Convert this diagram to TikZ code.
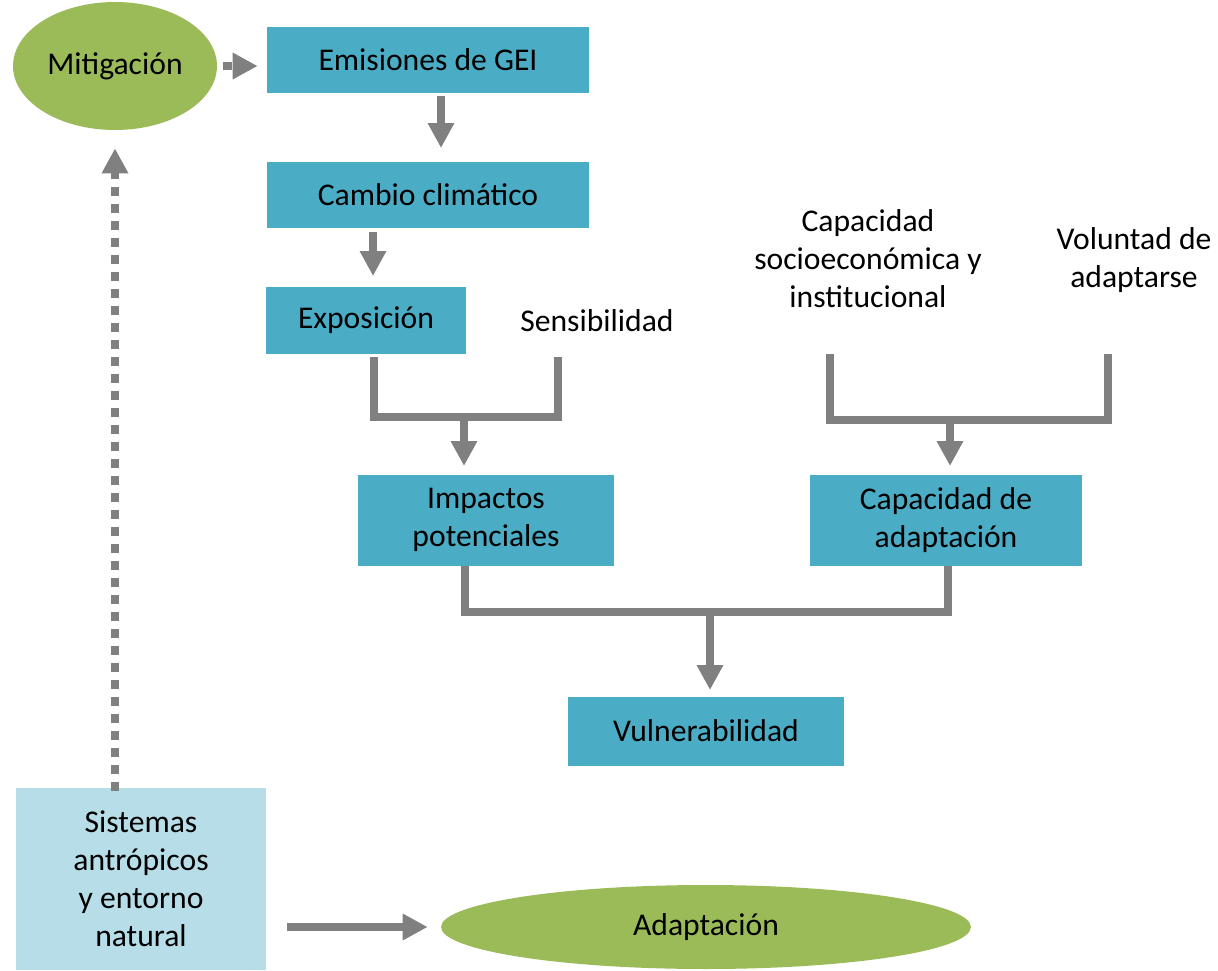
\documentclass[tikz,border=0pt]{standalone}
\usepackage{fontspec}
\setmainfont{Carlito}
\usetikzlibrary{positioning,arrows.meta,shapes.geometric}
\definecolor{boxblue}{HTML}{4BACC6}
\definecolor{paleblue}{HTML}{B7DEE8}
\definecolor{leafgreen}{HTML}{9BBB59}
\definecolor{linkgray}{HTML}{808080}
\tikzset{
  txt/.style={align=center, inner sep=0pt, font=\fontsize{18}{21.6}\selectfont},
  box/.style={txt, fill=boxblue},
  oval/.style={txt, ellipse, fill=leafgreen},
  bar/.style={draw=linkgray, line width=0.16cm, line join=miter},
  link/.style={bar, -{Triangle[length=0.5cm,width=0.5cm]}},
  dotlink/.style={link, dash pattern=on 0.18cm off 0.16cm}
}
\begin{document}
\begin{tikzpicture}[x=0.02cm, y=-0.02cm]
\useasboundingbox (0,0) rectangle (1218,971);
% left column
\node[oval, minimum width=4.08cm, minimum height=2.56cm] (mitig) at (115,66) {Mitigación};
\node[box, fill=paleblue, minimum width=5.02cm, minimum height=3.64cm] (sist) at (141,879) {Sistemas\\antrópicos\\y entorno\\natural};
\node[oval, minimum width=10.6cm, minimum height=1.68cm] (adapt) at (706,927) {Adaptación};
% main chain
\node[box, minimum width=6.44cm, minimum height=1.34cm] (emis) at (428,60) {Emisiones de GEI};
\node[box, minimum width=6.44cm, minimum height=1.32cm] (cambio) at (428,195) {Cambio climático};
\node[box, minimum width=4cm, minimum height=1.34cm] (expo) at (366,320) {Exposición};
\node[txt] (sens) at (597,321) {Sensibilidad};
\node[txt] (capsoc) at (868,259) {Capacidad\\socioeconómica y\\institucional};
\node[txt] (volun) at (1134,260) {Voluntad de\\adaptarse};
\node[box, minimum width=5.12cm, minimum height=1.82cm] (impac) at (486,520) {Impactos\\potenciales};
\node[box, minimum width=5.44cm, minimum height=1.82cm] (capad) at (946,520) {Capacidad de\\adaptación};
\node[box, minimum width=5.52cm, minimum height=1.38cm] (vuln) at (706,731) {Vulnerabilidad};
% bracket corners
\coordinate (e1) at (441,96);  \coordinate (e2) at (441,148);
\coordinate (c1) at (373,232); \coordinate (c2) at (373,276);
\coordinate (l1) at (374,357); \coordinate (l2) at (558,357);
\coordinate (lm) at (464,417); \coordinate (lt) at (464,466);
\coordinate (r1) at (830,354); \coordinate (r2) at (1108,354);
\coordinate (rm) at (950,420); \coordinate (rt) at (950,466);
\coordinate (b1) at (465,566); \coordinate (b2) at (948,566);
\coordinate (bm) at (710,612); \coordinate (bt) at (710,690);
% connectors
\draw[link] (e1) -- (e2);
\draw[link] (c1) -- (c2);
\draw[bar] (l1) |- (lm) -| (l2);
\draw[link] (lm) -- (lt);
\draw[bar] (r1) |- (rm) -| (r2);
\draw[link] (rm) -- (rt);
\draw[bar] (b1) |- (bm) -| (b2);
\draw[link] (bm) -- (bt);
\draw[dotlink, shorten <=0.12cm, shorten >=0.18cm] (mitig.east) -- (emis.west |- mitig.east);
\draw[dotlink, shorten <=-0.06cm, shorten >=0.36cm] (sist.north -| mitig.south) -- (mitig.south);
\draw[link, shorten <=0.4cm, shorten >=0.26cm] (sist.east |- adapt.west) -- (adapt.west);
\end{tikzpicture}
\end{document}
